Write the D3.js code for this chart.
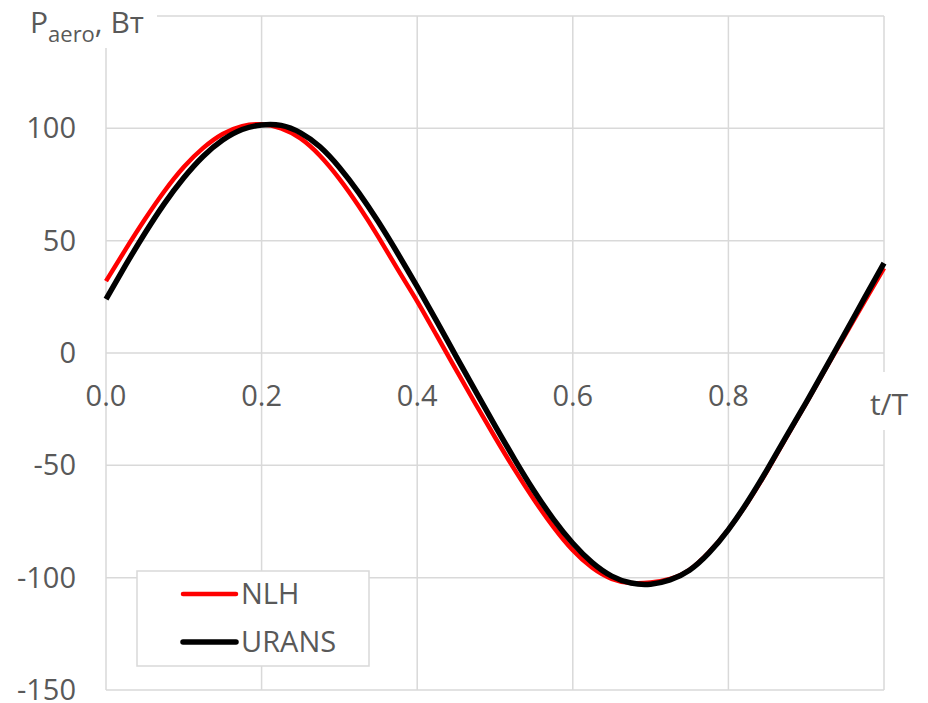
<!DOCTYPE html>
<html>
<head>
<meta charset="utf-8">
<script src="https://cdn.jsdelivr.net/npm/d3@7"></script>
<style>
  html, body { margin: 0; padding: 0; background: #fff; }
  svg { display: block; font-family: "Open Sans", sans-serif; }
</style>
</head>
<body>
<div id="chart"></div>
<script>
// t/T values
const tValues = [0, 0.025, 0.05, 0.075, 0.1, 0.125, 0.15, 0.175, 0.2, 0.225, 0.25, 0.275, 0.3, 0.325, 0.35, 0.375, 0.4, 0.425, 0.45, 0.475, 0.5,
  0.525, 0.55, 0.575, 0.6, 0.625, 0.65, 0.675, 0.7, 0.725, 0.75, 0.775, 0.8, 0.825, 0.85, 0.875, 0.9, 0.925, 0.95, 0.975, 1.0];

const nlhValues = [32, 46, 59.5, 72, 82.8, 91.3, 97.5, 101, 101.8, 100, 95.5, 87.8, 77.5, 65.3, 51.7, 37.2, 23, 7.8, -7.5, -22.7, -37.5,
  -51.8, -65.2, -77.4, -87.8, -95.6, -100.5, -102.4, -102.2, -100.6, -96.5, -88.7, -78.6, -66.3, -52.3, -37.2, -22.3, -7, 8, 23, 37.8];

const uransValues = [24, 39, 53.3, 66.5, 78, 87.6, 94.8, 99.5, 101.5, 101.3, 98, 91.8, 82.6, 71.3, 58.4, 44.3, 29.5, 14.2, -1.5, -17, -32.3,
  -47.2, -61.3, -73.9, -84.7, -93.3, -99.3, -102.4, -102.9, -101, -96.7, -89, -78.6, -66, -51.8, -36.8, -22, -6.6, 8.9, 24.5, 40];

const xTicks = [0, 0.2, 0.4, 0.6, 0.8, 1.0];
const yTicks = [-150, -100, -50, 0, 50, 100, 150];
const yTickLabels = ["-150", "-100", "-50", "0", "50", "100", ""];

const seriesNames = ["NLH", "URANS"];
const seriesColors = ["#ff0000", "#000000"];

const width = 928;
const height = 703;
const TEXT_COLOR = "#595959";
const GRID_COLOR = "#d9d9d9";

const x = d3.scaleLinear().domain([0, 1]).range([106, 884]);
const y = d3.scaleLinear().domain([-150, 150]).range([690, 16]);

const svg = d3.select("#chart")
  .append("svg")
  .attr("width", width)
  .attr("height", height);

// grid
svg.append("g")
  .selectAll("line")
  .data(yTicks)
  .enter()
  .append("line")
  .attr("x1", x(0))
  .attr("x2", x(1))
  .attr("y1", function (d) { return y(d); })
  .attr("y2", function (d) { return y(d); })
  .attr("stroke", GRID_COLOR)
  .attr("stroke-width", 1.5);

svg.append("g")
  .selectAll("line")
  .data(xTicks)
  .enter()
  .append("line")
  .attr("x1", function (d) { return x(d); })
  .attr("x2", function (d) { return x(d); })
  .attr("y1", y(150))
  .attr("y2", y(-150))
  .attr("stroke", GRID_COLOR)
  .attr("stroke-width", 1.5);

// y tick labels
svg.append("g")
  .selectAll("text")
  .data(yTicks)
  .enter()
  .append("text")
  .attr("x", 76)
  .attr("y", function (d) { return y(d); })
  .attr("dy", "0.35em")
  .attr("text-anchor", "end")
  .attr("font-size", "29px")
  .attr("fill", TEXT_COLOR)
  .text(function (d, i) { return yTickLabels[i]; });

// x tick labels (below zero line)
svg.append("g")
  .selectAll("text")
  .data(xTicks.slice(0, 5))
  .enter()
  .append("text")
  .attr("x", function (d) { return x(d); })
  .attr("y", 406)
  .attr("text-anchor", "middle")
  .attr("font-size", "29px")
  .attr("fill", TEXT_COLOR)
  .text(function (d) { return d.toFixed(1); });

// series
const line = d3.line()
  .x(function (d) { return x(d[0]); })
  .y(function (d) { return y(d[1]); })
  .curve(d3.curveNatural);

const series = [
  { name: seriesNames[0], color: seriesColors[0], width: 4.5, values: d3.zip(tValues, nlhValues) },
  { name: seriesNames[1], color: seriesColors[1], width: 5.5, values: d3.zip(tValues, uransValues) }
];

svg.append("g")
  .selectAll("path")
  .data(series)
  .enter()
  .append("path")
  .attr("d", function (d) { return line(d.values); })
  .attr("fill", "none")
  .attr("stroke", function (d) { return d.color; })
  .attr("stroke-width", function (d) { return d.width; })
  .attr("stroke-linejoin", "round");

// axis titles with white backing
svg.append("rect")
  .attr("x", 0).attr("y", 0)
  .attr("width", 157).attr("height", 48)
  .attr("fill", "#fff");

const title = svg.append("text")
  .attr("x", 30)
  .attr("y", 33)
  .attr("font-size", "30px")
  .attr("fill", TEXT_COLOR);
title.append("tspan").text("P");
title.append("tspan").attr("font-size", "22px").attr("dy", 9).text("aero");
title.append("tspan").attr("dy", -9).text(", Вт");

svg.append("rect")
  .attr("x", 862).attr("y", 372)
  .attr("width", 56).attr("height", 58)
  .attr("fill", "#fff");

svg.append("text")
  .attr("x", 889)
  .attr("y", 415)
  .attr("text-anchor", "middle")
  .attr("font-size", "30px")
  .attr("fill", TEXT_COLOR)
  .text("t/T");

// legend
const legend = svg.append("g");
legend.append("rect")
  .attr("x", 137).attr("y", 571)
  .attr("width", 232).attr("height", 95)
  .attr("fill", "#fff")
  .attr("stroke", GRID_COLOR)
  .attr("stroke-width", 1.5);

const legendRows = legend.selectAll("g")
  .data(series)
  .enter()
  .append("g")
  .attr("transform", function (d, i) { return "translate(0," + (594 + i * 48) + ")"; });

legendRows.append("line")
  .attr("x1", 183).attr("x2", 236)
  .attr("stroke", function (d) { return d.color; })
  .attr("stroke-width", function (d) { return d.width; })
  .attr("stroke-linecap", "round");

legendRows.append("text")
  .attr("x", 241)
  .attr("dy", "0.35em")
  .attr("font-size", "29px")
  .attr("fill", TEXT_COLOR)
  .text(function (d) { return d.name; });
</script>
</body>
</html>
